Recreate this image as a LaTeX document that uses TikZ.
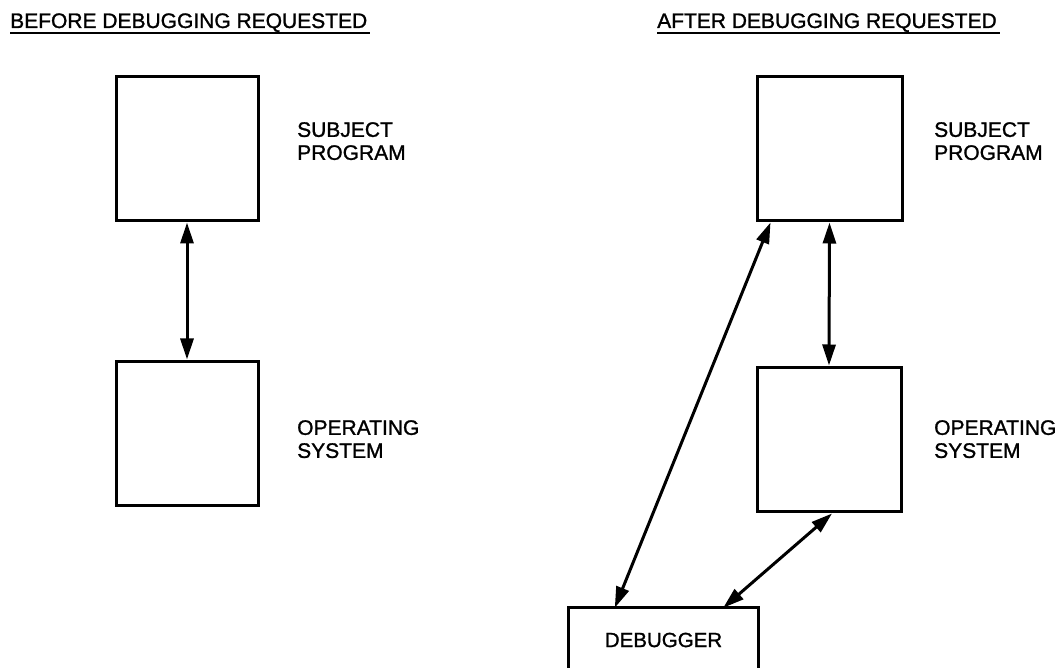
\documentclass[tikz,border=0pt]{standalone}
\usepackage{fontspec}
\setmainfont{Liberation Sans}[FakeBold=1.2]
\usetikzlibrary{arrows.meta,calc}
\begin{document}
\begin{tikzpicture}[x=1pt,y=-1pt,
  blk/.style={draw, line width=3pt, minimum width=142pt, minimum height=144pt, inner sep=0pt},
  lbl/.style={anchor=north west, align=left, inner sep=0pt, font=\fontsize{21}{23}\selectfont},
  head/.style={anchor=base west, inner sep=0pt, font=\fontsize{21}{22}\selectfont},
  conn/.style={line width=3pt, {Triangle[length=21pt,width=13pt]}-{Triangle[length=21pt,width=13pt]}},
  uline/.style={line width=2pt}]
\useasboundingbox (0,0) rectangle (1063,668);
% headings
\node[head] (hl) at (10,28) {BEFORE DEBUGGING REQUESTED};
\node[head] (hr) at (657,28) {AFTER DEBUGGING REQUESTED};
\draw[uline] ($(hl.base west)+(0,5)$) -- ($(hl.base east)+(3,5)$);
\draw[uline] ($(hr.base west)+(0,5)$) -- ($(hr.base east)+(3,5)$);
% left side
\node[blk] (lt) at (187,149) {};
\node[blk] (lb) at (187,433) {};
\node[lbl] (ltl) at (297,122) {SUBJECT\\PROGRAM};
\node[lbl] (lbl) at (297,420) {OPERATING\\SYSTEM};
\draw[conn] (lt.south) -- (lb.north);
% right side
\node[blk, minimum width=145pt] (rt) at (829.5,149) {};
\node[blk, minimum width=144pt] (ro) at (829,439) {};
\node[lbl] (rtl) at (934,122) {SUBJECT\\PROGRAM};
\node[lbl] (rol) at (934,420) {OPERATING\\SYSTEM};
\node[inner sep=0pt, minimum width=189pt, minimum height=64pt, font=\fontsize{20.5}{22}\selectfont] (dbg) at (663.5,640) {DEBUGGER};
\draw[line width=3pt] (dbg.south west) |- (dbg.north east) -- (dbg.south east);
\draw[conn] (rt.south) -- (ro.north);
\draw[conn] ($(rt.south west)+(15,0)$) -- ($(dbg.north west)+(46,0)$);
\draw[conn] ($(ro.south)+(3,1)$) -- ($(dbg.north east)+(-35,0)$);
\end{tikzpicture}
\end{document}
